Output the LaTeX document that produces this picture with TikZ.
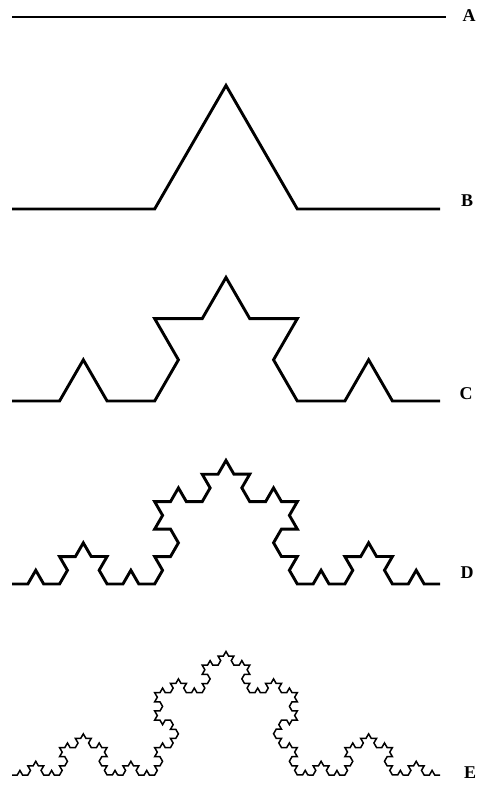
\documentclass[tikz,border=0pt]{standalone}
\usepackage{fontspec}
\setmainfont{Liberation Serif}
\usetikzlibrary{decorations.fractals}

\tikzset{
    stage/.style={line width=2.9pt, line join=miter},
    finestage/.style={line width=1.5pt, line join=miter},
    tag/.style={font=\fontsize{18}{18}\selectfont\bfseries, inner sep=0pt},
    koch/.style={decoration=Koch snowflake}
}

\begin{document}
\begin{tikzpicture}[x=1pt, y=-1pt]
    \useasboundingbox (0,0) rectangle (480,785);

    % End points of each stage
    \coordinate (a0) at (12,17);  \coordinate (a1) at (446,17);
    \coordinate (b0) at (12,209); \coordinate (b1) at (440,209);
    \coordinate (c0) at (12,401); \coordinate (c1) at (440,401);
    \coordinate (d0) at (12,584); \coordinate (d1) at (440,584);
    \coordinate (e0) at (12,775); \coordinate (e1) at (440,775);

    % Stages 0 to 4 of the curve
    \draw[stage] (a0) -- (a1);
    \draw[stage, koch] decorate{ (b0) -- (b1) };
    \draw[stage, koch] decorate{ decorate{ (c0) -- (c1) } };
    \draw[stage, koch] decorate{ decorate{ decorate{ (d0) -- (d1) } } };
    \draw[finestage, koch] decorate{ decorate{ decorate{ decorate{ (e0) -- (e1) } } } };

    % Labels
    \node[tag] (labA) at (469,16)  {A};
    \node[tag] (labB) at (467,201) {B};
    \node[tag] (labC) at (466,394) {C};
    \node[tag] (labD) at (467,573) {D};
    \node[tag] (labE) at (470,773) {E};
\end{tikzpicture}
\end{document}
